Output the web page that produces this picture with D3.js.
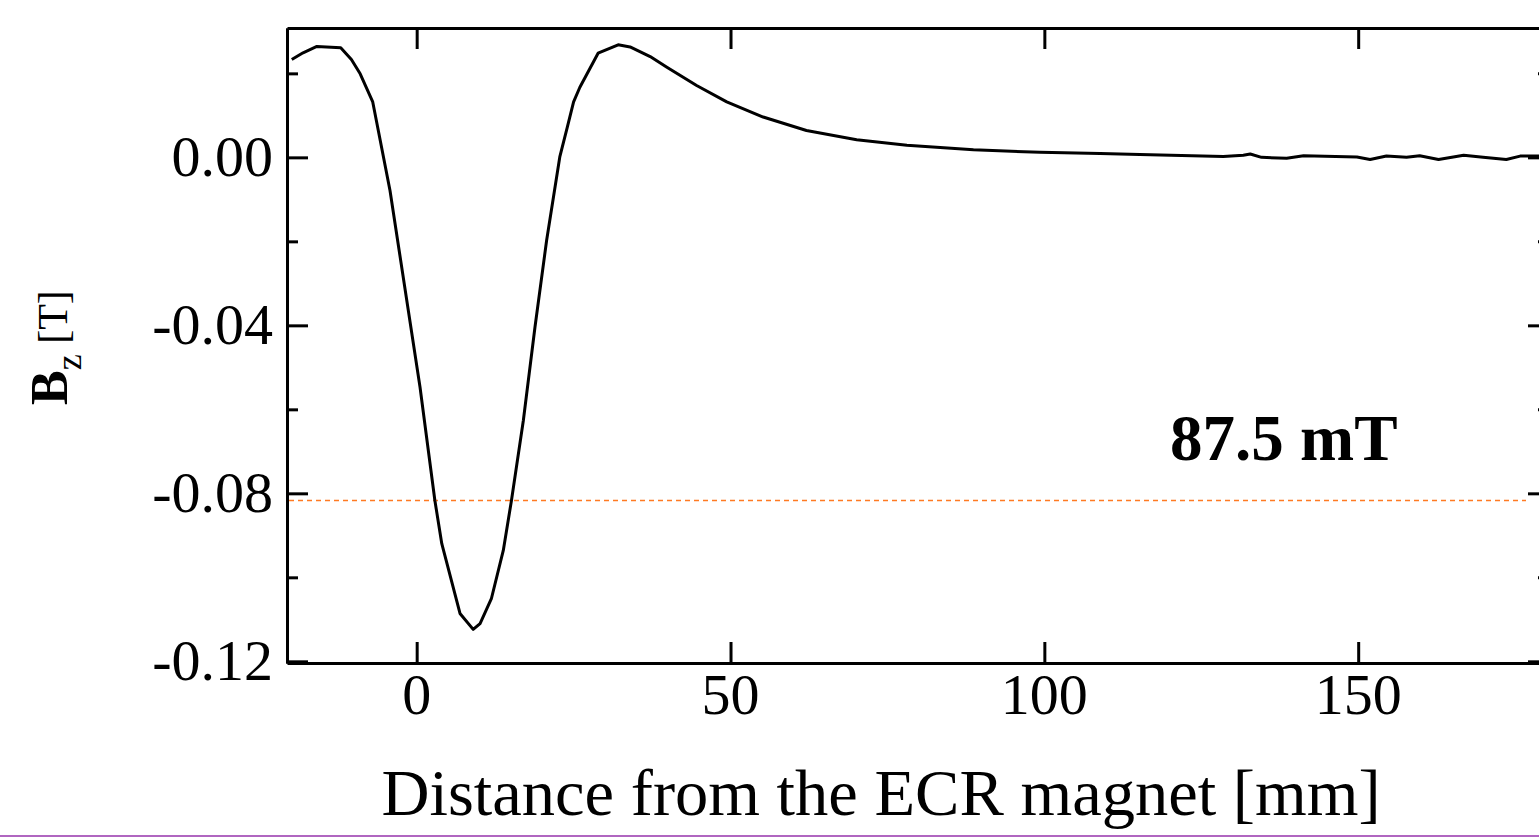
<!DOCTYPE html>
<html>
<head>
<meta charset="utf-8">
<script src="https://cdnjs.cloudflare.com/ajax/libs/d3/7.8.5/d3.min.js"></script>
<style type='text/css'>
  body { margin: 0; background: #fff; }
  svg text { font-family: "Liberation Serif", "Times New Roman", serif; fill: #000; }
  .axis path { stroke: #000; stroke-width: 3px; }
  .axis line { stroke: #000; stroke-width: 3px; }
</style>
</head>
<body>
<div id='chart'></div>
<script type='text/javascript'>
// distance from the magnet [mm]
var distance = [-19.9, -18.1, -15.9, -12.1, -10.4, -9.0, -7.0, -4.25, 0.53, 2.9, 4.0, 6.9,
  9.0, 10.1, 11.9, 13.8, 15.1, 17.0, 18.85, 20.7, 22.8, 24.0, 25.0, 26.0, 28.9, 32.1, 34.0,
  37.2, 39.8, 44.6, 49.4, 55.2, 62.1, 70.1, 78.1, 88.7, 99.3, 108.9, 115.2, 128.5, 131.7,
  132.8, 134.6, 138.6, 141.3, 149.8, 151.9, 154.5, 157.7, 159.8, 162.8, 166.8, 169.9,
  173.6, 175.8, 180.4];
// Bz [T]
var bz = [0.0233, 0.0249, 0.0264, 0.0261, 0.0233, 0.0199, 0.0132, -0.0079, -0.0547, -0.0817,
  -0.0920, -0.1086, -0.1124, -0.1110, -0.1051, -0.0936, -0.0817, -0.0626, -0.0404, -0.0198,
  0.0001, 0.0072, 0.0132, 0.0167, 0.0248, 0.0268, 0.0263, 0.0240, 0.0215, 0.0171, 0.0132,
  0.0096, 0.0064, 0.0042, 0.0029, 0.0018, 0.0012, 0.0009, 0.0007, 0.0002, 0.0005, 0.0008,
  0.0000, -0.0002, 0.0004, 0.0001, -0.0005, 0.0003, 0.0000, 0.0004, -0.0005, 0.0005, 0.0000,
  -0.0005, 0.0003, 0.0003];
var xTicks = [0, 50, 100, 150];
var yTicks = [-0.12, -0.08, -0.04, 0.00];
var yMinor = [-0.10, -0.06, -0.02, 0.02];
var threshold = [-0.0817];   // 87.5 mT resonance level as drawn
var label = ["87.5 mT"];

var W = 1539, H = 837;
var x0 = 287, x1 = 1549, y0 = 663, y1 = 28;

var svg = d3.select('#chart').append('svg')
  .attr('width', W).attr('height', H);

var x = d3.scaleLinear().domain([-20.66, 180.4]).range([x0, x1]);
var y = d3.scaleLinear().domain([-0.1204, 0.0308]).range([y0, y1]);

function styleAxis(g) {
  g.attr('class', 'axis');
  g.selectAll('text').remove();
}

// frame + inward ticks
svg.append('g').attr('transform', 'translate(0,' + y0 + ')')
  .call(d3.axisBottom(x).tickValues(xTicks).tickSizeInner(-21).tickSizeOuter(0))
  .call(styleAxis);
svg.append('g').attr('transform', 'translate(0,' + y1 + ')')
  .call(d3.axisTop(x).tickValues(xTicks).tickSizeInner(-21).tickSizeOuter(0))
  .call(styleAxis);
svg.append('g').attr('transform', 'translate(' + x0 + ',0)')
  .call(d3.axisLeft(y).tickValues(yTicks).tickSizeInner(-21).tickSizeOuter(0))
  .call(styleAxis);
svg.append('g').attr('transform', 'translate(' + x0 + ',0)')
  .call(d3.axisLeft(y).tickValues(yMinor).tickSizeInner(-11).tickSizeOuter(0))
  .call(styleAxis);
svg.append('g').attr('transform', 'translate(' + x1 + ',0)')
  .call(d3.axisRight(y).tickValues(yTicks).tickSizeInner(-21).tickSizeOuter(0))
  .call(styleAxis);
svg.append('g').attr('transform', 'translate(' + x1 + ',0)')
  .call(d3.axisRight(y).tickValues(yMinor).tickSizeInner(-11).tickSizeOuter(0))
  .call(styleAxis);

// tick labels (plain hyphen as in the original)
var fmt = function(d) { return d3.format('.2f')(d).replace('\u2212', '-'); };
svg.selectAll('.ylab').data(yTicks).enter().append('text')
  .attr('x', 273).attr('y', function(d) { return y(d) + 19; })
  .attr('text-anchor', 'end').style('font-size', '58px')
  .text(fmt);
svg.selectAll('.xlab').data(xTicks).enter().append('text')
  .attr('x', function(d) { return x(d); }).attr('y', 714)
  .attr('text-anchor', 'middle').style('font-size', '58px')
  .text(function(d) { return d; });

// dashed threshold line
svg.selectAll('.thr').data(threshold).enter().append('line')
  .attr('x1', x0 + 2).attr('x2', x1 - 23)
  .attr('y1', function(d) { return y(d); }).attr('y2', function(d) { return y(d); })
  .attr('stroke', '#ff7a22').attr('stroke-width', 1.4).attr('stroke-dasharray', '5,4');

// curve
var pts = distance.map(function(d, i) { return [d, bz[i]]; });
svg.append('path').datum(pts)
  .attr('fill', 'none').attr('stroke', '#000').attr('stroke-width', 3)
  .attr('stroke-linejoin', 'round')
  .attr('d', d3.line().x(function(d) { return x(d[0]); }).y(function(d) { return y(d[1]); }));

// annotation
svg.append('text').attr('x', 1170).attr('y', 460)
  .style('font-size', '65px').style('font-weight', 'bold').text(label[0]);

// axis titles
svg.append('text').attr('x', 881).attr('y', 815).attr('text-anchor', 'middle')
  .style('font-size', '66.5px').text('Distance from the ECR magnet [mm]');

var yt = svg.append('text').attr('transform', 'translate(67,405) rotate(-90)');
yt.append('tspan').style('font-size', '52px').style('font-weight', 'bold').text('B');
yt.append('tspan').attr('dy', 14).style('font-size', '36px').text('z');
yt.append('tspan').attr('dy', -14).style('font-size', '42px').text(' [T]');

// purple rule at the bottom
svg.append('line').attr('x1', 0).attr('x2', W).attr('y1', 836).attr('y2', 836)
  .attr('stroke', '#b066c0').attr('stroke-width', 2);
</script>
</body>
</html>
